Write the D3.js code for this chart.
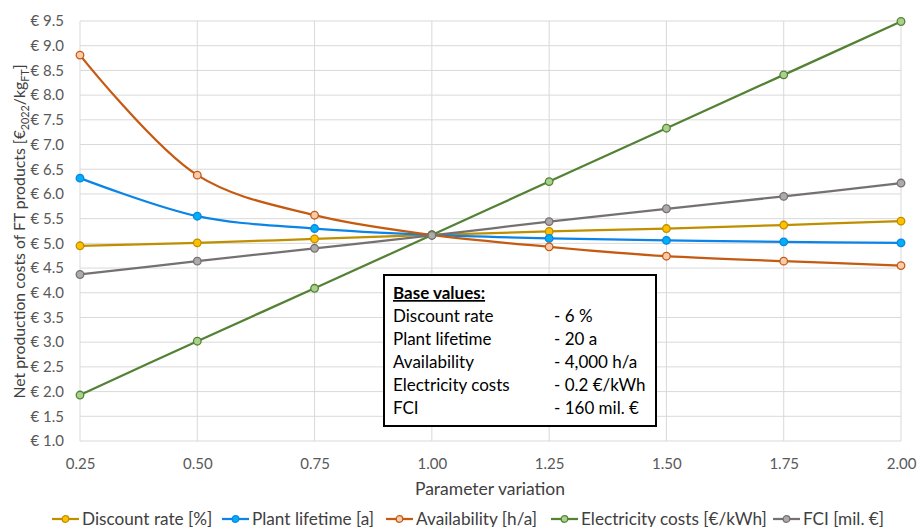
<!DOCTYPE html>
<html><head><meta charset="utf-8">
<script src="https://cdn.jsdelivr.net/npm/d3@7"></script>
<style>body{margin:0;background:#fff;} svg{display:block;font-family:Lato,"Open Sans",sans-serif;}</style>
</head><body>
<svg id="c" width="917" height="527"></svg>
<script>
const xValues = [0.25, 0.5, 0.75, 1.0, 1.25, 1.5, 1.75, 2.0];
const discountRate = [4.95, 5.01, 5.09, 5.17, 5.24, 5.30, 5.37, 5.45];
const plantLifetime = [6.32, 5.55, 5.30, 5.17, 5.10, 5.06, 5.03, 5.01];
const availability = [8.81, 6.38, 5.57, 5.17, 4.93, 4.74, 4.64, 4.55];
const electricityCosts = [1.93, 3.02, 4.09, 5.17, 6.25, 7.33, 8.41, 9.49];
const fci = [4.37, 4.64, 4.90, 5.16, 5.44, 5.70, 5.95, 6.22];
const seriesNames = ["Discount rate [%]", "Plant lifetime [a]", "Availability [h/a]", "Electricity costs [€/kWh]", "FCI [mil. €]"];
const seriesLine = ["#BF8F00", "#0A84E8", "#C55A11", "#548235", "#767171"];
const seriesFill = ["#FFC000", "#00B0F0", "#F8CBAD", "#A9D18E", "#AEAAAA"];
const yTicks = [1.0,1.5,2.0,2.5,3.0,3.5,4.0,4.5,5.0,5.5,6.0,6.5,7.0,7.5,8.0,8.5,9.0,9.5];
const baseLabels = ["Discount rate", "Plant lifetime", "Availability", "Electricity costs", "FCI"];
const baseValues = ["- 6 %", "- 20 a", "- 4,000 h/a", "- 0.2 €/kWh", "- 160 mil. €"];
const allSeries = [discountRate, plantLifetime, availability, electricityCosts, fci];

const svg = d3.select("#c");
const x = d3.scaleLinear().domain([0.25, 2.0]).range([80, 901]);
const y = d3.scaleLinear().domain([1.0, 9.5]).range([441, 21]);

// grid
svg.append("g").selectAll("line").data(yTicks).join("line")
  .attr("x1", 80).attr("x2", 901).attr("y1", d => y(d)).attr("y2", d => y(d))
  .attr("stroke", "#D9D9D9").attr("stroke-width", 1);
svg.append("g").selectAll("line").data(xValues).join("line")
  .attr("y1", 21).attr("y2", 441).attr("x1", d => x(d)).attr("x2", d => x(d))
  .attr("stroke", "#D9D9D9").attr("stroke-width", 1);

// axes
const yAxis = d3.axisLeft(y).tickValues(yTicks).tickFormat(d => "€ " + d3.format(".1f")(d)).tickSize(0).tickPadding(16);
const gy = svg.append("g").attr("transform", "translate(80,0)").call(yAxis);
gy.select(".domain").remove();
gy.selectAll("text").attr("font-size", 15).attr("fill", "#595959").attr("font-family", "Lato");

const xAxis = d3.axisBottom(x).tickValues(xValues).tickFormat(d3.format(".2f")).tickSize(0).tickPadding(17);
const gx = svg.append("g").attr("transform", "translate(0,441)").call(xAxis);
gx.select(".domain").remove();
gx.selectAll("text").attr("font-size", 15).attr("fill", "#595959").attr("font-family", "Lato");

// lines
const line = d3.line().x((d, i) => x(xValues[i])).y(d => y(d)).curve(d3.curveCatmullRom.alpha(0.5));
allSeries.forEach((s, k) => {
  svg.append("path").datum(s).attr("d", line).attr("fill", "none")
    .attr("stroke", seriesLine[k]).attr("stroke-width", 2.25);
});
allSeries.forEach((s, k) => {
  svg.append("g").selectAll("circle").data(s).join("circle")
    .attr("cx", (d, i) => x(xValues[i])).attr("cy", d => y(d)).attr("r", 3.8)
    .attr("fill", seriesFill[k]).attr("stroke", seriesLine[k]).attr("stroke-width", 1.3);
});

// axis titles
svg.append("text").attr("x", 490).attr("y", 495).attr("text-anchor", "middle")
  .attr("font-size", 17.5).attr("fill", "#404040").text("Parameter variation");
const yt = svg.append("text").attr("transform", "translate(25,231.5) rotate(-90)").attr("text-anchor", "middle")
  .attr("font-size", 15.8).attr("fill", "#404040");
yt.append("tspan").text("Net production costs of FT products [€");
yt.append("tspan").attr("font-size", 10.8).attr("dy", 4).text("2022");
yt.append("tspan").attr("dy", -4).text("/kg");
yt.append("tspan").attr("font-size", 10.8).attr("dy", 4).text("FT");
yt.append("tspan").attr("dy", -4).text("]");

// base values box
svg.append("rect").attr("x", 384).attr("y", 275).attr("width", 272).attr("height", 151)
  .attr("fill", "#fff").attr("stroke", "#000").attr("stroke-width", 2);
svg.append("text").attr("x", 393).attr("y", 299).attr("font-size", 17).attr("font-weight", "bold")
  .attr("text-decoration", "underline").attr("fill", "#000").text("Base values:");
baseLabels.forEach((t, i) => {
  svg.append("text").attr("x", 393).attr("y", 322 + i * 23).attr("font-size", 17).attr("fill", "#000").text(t);
  svg.append("text").attr("x", 554).attr("y", 322 + i * 23).attr("font-size", 17).attr("fill", "#000").text(baseValues[i]);
});

// legend
const legendX = [52, 222, 386, 551, 773];
seriesNames.forEach((n, k) => {
  const g = svg.append("g").attr("transform", `translate(${legendX[k]},519)`);
  g.append("line").attr("x1", 0).attr("x2", 27).attr("y1", 0).attr("y2", 0).attr("stroke", seriesLine[k]).attr("stroke-width", 2.25);
  g.append("circle").attr("cx", 13.5).attr("cy", 0).attr("r", 3.3).attr("fill", seriesFill[k]).attr("stroke", seriesLine[k]).attr("stroke-width", 1.3);
  g.append("text").attr("x", 30).attr("y", 5.5).attr("font-size", 17.2).attr("fill", "#404040").text(n);
});
</script>
</body></html>
